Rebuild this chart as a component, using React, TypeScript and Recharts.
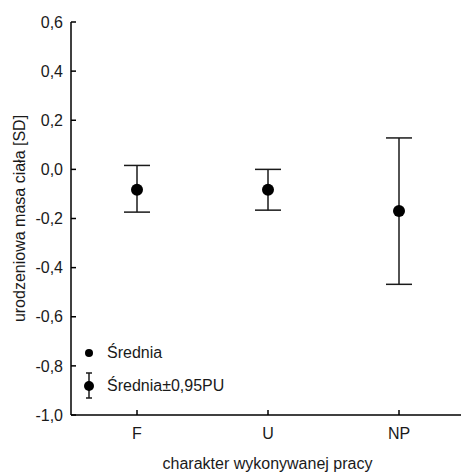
import React from 'react';
import { ComposedChart, Line, ErrorBar, XAxis, YAxis, Legend } from 'recharts';

const categories = ['F', 'U', 'NP'];
const means = [-0.083, -0.083, -0.169];
const lower = [-0.174, -0.166, -0.468];
const upper = [0.016, 0.0, 0.128];
const yTicks = [-1.0, -0.8, -0.6, -0.4, -0.2, 0.0, 0.2, 0.4, 0.6];

const data = categories.map((name, i) => ({
  name,
  mean: means[i],
  err: [means[i] - lower[i], upper[i] - means[i]],
}));

const FONT = '"Liberation Sans", Arial, sans-serif';
const INK = '#1a1a1a';

const fmt = (v: number) => v.toFixed(1).replace('.', ',');

function LegendBox() {
  return (
    <div style={{ fontFamily: FONT, fontSize: 16, color: INK, lineHeight: 1 }}>
      <div style={{ display: 'flex', alignItems: 'center', height: 30 }}>
        <svg width={18} height={30}>
          <circle cx={9} cy={15} r={4} fill="#000" />
        </svg>
        <span style={{ marginLeft: 9 }}>Średnia</span>
      </div>
      <div style={{ display: 'flex', alignItems: 'center', height: 36 }}>
        <svg width={18} height={36}>
          <line x1={9} y1={5} x2={9} y2={30} stroke={INK} strokeWidth={1.5} />
          <line x1={6} y1={5} x2={12} y2={5} stroke={INK} strokeWidth={1.5} />
          <line x1={6} y1={30} x2={12} y2={30} stroke={INK} strokeWidth={1.5} />
          <circle cx={9} cy={18} r={5} fill="#000" />
        </svg>
        <span style={{ marginLeft: 9 }}>Średnia±0,95PU</span>
      </div>
    </div>
  );
}

const YLabel = (props: any) => {
  const vb = props.viewBox;
  const x = vb.x + 25;
  const y = vb.y + vb.height / 2;
  return (
    <text
      x={x}
      y={y}
      transform={`rotate(-90 ${x} ${y})`}
      textAnchor="middle"
      fill={INK}
      fontSize={16}
      fontFamily={FONT}
    >
      urodzeniowa masa ciała [SD]
    </text>
  );
};

export default function App() {
  return (
    <>
      <style>{'body{margin:0;overflow:hidden;background:#fff}'}</style>
      <ComposedChart
        width={464}
        height={472}
        data={data}
        margin={{ top: 22, right: 0, bottom: 0, left: 0 }}
      >
        <XAxis
          dataKey="name"
          height={57}
          padding={{ left: 66, right: 65 }}
          axisLine={{ stroke: '#000', strokeWidth: 1.5 }}
          tickLine={{ stroke: '#000', strokeWidth: 1.5 }}
          tickSize={-5}
          tickMargin={18}
          tick={{ fill: INK, fontSize: 16, fontFamily: FONT }}
          label={{
            value: 'charakter wykonywanej pracy',
            position: 'insideBottom',
            offset: 3,
            fill: INK,
            fontSize: 16,
            fontFamily: FONT,
          }}
        />
        <YAxis
          width={71}
          domain={[-1, 0.6]}
          ticks={yTicks}
          tickFormatter={fmt}
          axisLine={{ stroke: '#000', strokeWidth: 1.5 }}
          tickLine={{ stroke: '#000', strokeWidth: 1.5 }}
          tickSize={-5}
          tickMargin={13}
          tick={{ fill: INK, fontSize: 16, fontFamily: FONT }}
          label={<YLabel />}
        />
        <Legend
          layout="vertical"
          verticalAlign="middle"
          align="center"
          content={<LegendBox />}
          wrapperStyle={{ left: 80, top: 338, width: 'auto' }}
        />
        <Line
          dataKey="mean"
          stroke="none"
          dot={{ r: 6, fill: '#000', stroke: 'none' }}
          activeDot={false}
          isAnimationActive={false}
          legendType="none"
        >
          <ErrorBar dataKey="err" width={13} stroke={INK} strokeWidth={1.5} direction="y" />
        </Line>
      </ComposedChart>
    </>
  );
}
